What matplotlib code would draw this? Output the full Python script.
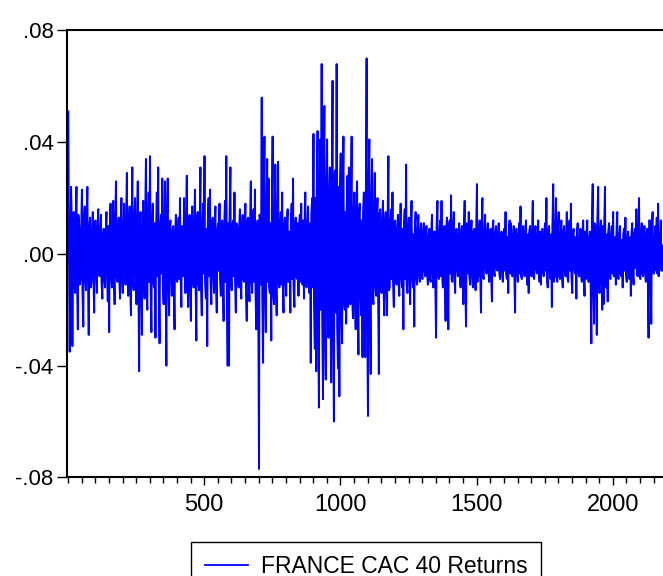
import numpy as np
import matplotlib.pyplot as plt
from matplotlib.ticker import MultipleLocator
from matplotlib.lines import Line2D

plt.rcParams['font.family'] = ['Liberation Sans', 'DejaVu Sans']

series_name = "FRANCE CAC 40 Returns"

# daily returns (in thousandths)
# peaks: one value every 5 obs starting at obs 1
first_obs = 1
obs_step = 5
returns_milli = [
    51, -35, 24, -33, 15, -14, 24, -27, 10, -9, 23, -26, 17, -13, 24, -29, 13, -10, 15, -21,      # 1-100
    12, -14, 16, -8, 14, -16, 9, -12, 15, -17, -28, 18, -12, 19, -18, 26, -10, 13, -16, 20,       # 101-200
    -14, 18, -11, 29, -15, 17, -22, 31, -13, 20, -18, 26, -42, 15, -29, 19, -16, 34, -20, 22,     # 201-300
    35, -28, 18, -12, -30, 22, 31, -32, 14, 27, -18, 26, -40, 27, -22, 12, -15, 10, -27, 14,      # 301-400
    -10, 13, 20, -19, 9, 20, -14, 28, -19, 14, -24, 17, -12, 23, -31, 15, -13, 31, -22, 18,       # 401-500
    35, -16, -33, 20, 23, -18, 13, -14, 17, -21, 11, 18, -15, 12, -24, 19, 35, -40, -40, 31,      # 501-600
    -13, 12, 22, -21, 10, -12, 16, -16, 14, -10, 18, -24, 13, -17, 26, -14, 16, 23, -27, 12,      # 601-700
    -77, 12, 56, -39, 42, -28, 34, 27, -14, -31, 42, -18, 32, -22, 33, -12, 15, 22, -21, 13,      # 701-800
    -15, 16, -10, -21, 18, 27, -19, 13, -9, -15, 14, 18, -11, -16, 22, -12, 17, -14, -39, 20,     # 801-900
    43, -34, -42, 44, -55, 41, 68, -52, 53, -45, 41, -30, 31, -46, 62, -60, 30, 68, -41, -51,     # 901-1000
    36, -32, 42, -20, -25, 28, 31, -18, 42, -23, 22, -27, 26, -36, 18, -22, -37, 22, -37, 70,     # 1001-1100
    -58, 41, -43, 34, -18, 29, -15, 20, -43, 16, -14, 19, -22, 15, -22, 35, -12, 16, 22, -19,     # 1101-1200
    12, -11, 14, -15, 18, -12, -27, 16, 32, -14, 13, -18, 19, -12, -26, 15, -11, 14, -10, 11,     # 1201-1300
    -9, 11, -8, 10, -11, 9, -10, 14, -12, 8, -30, 19, -9, 12, 19, -12, 10, -24, 13, -27,          # 1301-1400
    12, 21, -10, 15, -14, 9, -8, 11, -12, 10, -18, 19, -26, 10, 15, -11, 12, -12, 9, -13,         # 1401-1500
    25, -8, 12, -21, 20, -9, 14, -7, 11, -10, 9, -17, 12, -8, 10, -6, 11, -9, 8, -10,             # 1501-1600
    9, 15, -9, -14, 12, 11, -8, 10, -21, 9, -10, 11, 17, -9, 10, -8, 12, -11, -14, 10,            # 1601-1700
    -8, 19, -9, 10, -7, 12, -10, -11, 9, -8, 11, 20, -12, 10, -9, -19, 25, -8, 20, -10,           # 1701-1800
    15, -9, 12, -12, 10, -8, 15, -10, 12, 18, -14, 9, -7, -16, 11, -8, 9, -10, 12, -15,           # 1801-1900
    -9, 12, -10, 8, -32, 25, -25, 10, -29, 24, -14, 12, -20, -18, 24, -12, -17, 11, -9, 10,       # 1901-2000
    15, -8, -11, 15, -9, 10, -8, -12, 9, 13, -10, 8, -9, -15, 11, -11, 9, 16, -8, 20,             # 2001-2100
    -9, 11, -8, 10, -10, 9, -30, 12, -25, 15, -7, 10, 13, 18, -5, 12, -6,                         # 2101-2181
]

# the dense core in between, one value every 5 obs starting at obs 3
core_first_obs = 3
core_milli = [
    8, -12, 15, -6, -10, 12, -9, 14, -11, 7, -13, 10, -8, 12, -6, 9, -12, 8, -7, 11,
    -6, 9, -7, 8, -10, 6, -9, 7, -5, 10, 8, -7, 9, -6, 11, -8, 7, -9, 6, -8,
    9, -7, 10, -8, 6, -11, 8, -9, 12, -6, 10, -7, 9, -10, 8, -7, 11, -9, 7, -10,
    -9, 8, -10, 11, 7, -8, -10, 9, -7, -11, 10, -9, 12, -8, 9, -6, 8, -10, 7, -9,
    8, -9, -7, 10, -8, -6, 11, -9, 8, -10, 9, -7, 10, -8, 12, -9, 10, -11, 8, -7,
    -10, 9, 11, -8, -9, 10, -7, 9, -10, 8, -6, -9, 10, -7, 9, -10, -12, 11, 13, -9,
    10, -8, -9, 11, -7, 9, -10, 8, -9, 7, -11, 12, -8, 10, -9, 11, -10, -12, 9, -10,
    14, -11, -15, 16, -12, 13, -10, -12, 11, 13, -14, 10, -12, 11, -10, 9, -11, -8, 10, -9,
    9, -10, 8, 11, -9, -12, 10, -8, 11, 9, -10, -8, 12, 10, -11, 9, -10, 11, 14, -12,
    -18, 20, 22, -24, 25, -20, -22, 26, -24, 21, -18, 20, -19, 22, -25, 28, -21, -26, 24, 22,
    -20, 18, -17, 15, 16, -19, -14, 17, -16, 14, -15, 16, -14, 15, -13, 12, 15, -14, 16, -20,
    22, -18, 16, -15, 12, -11, 13, -12, 14, -10, 11, -12, 10, -11, 12, -13, 10, -9, -10, 11,
    -9, 8, -10, 7, -8, 9, 10, -9, -11, 8, -7, 9, -8, 7, 9, -8, 7, -6, 8, -7,
    7, -6, 8, -7, 6, -8, 7, -6, 8, -9, 10, -7, 6, -8, -7, 8, -6, 9, -7, 10,
    -7, -9, 8, -6, 7, -5, 6, -7, 8, -6, 9, -10, 11, -7, -8, 6, -7, 8, -6, 7,
    -10, 6, -7, 9, -8, 6, -5, 7, -6, 5, -7, 8, -6, 7, -5, 6, -7, 6, -5, 7,
    -6, -7, 6, 8, -7, -6, 5, -6, 8, -5, 6, -7, -8, 6, -5, 7, -6, 7, 8, -6,
    6, -8, 7, -5, 6, -7, 8, 6, -5, 7, -6, -9, 8, -6, 7, 9, -10, 6, -8, 7,
    -8, 6, -7, 8, -6, 5, -8, 7, -6, -8, 7, -5, 6, 8, -6, 5, -7, 6, -7, 8,
    6, -7, 5, -8, 12, -10, 11, -9, 12, -11, 8, -9, 10, 9, -10, 7, 8, -6, 5, -7,
    -8, 6, 7, -8, 6, -7, 5, 7, -6, -7, 5, -6, 6, 7, -6, 7, -5, -7, 6, -8,
    6, -7, 5, -6, 7, -5, 12, -8, 11, -7, 5, -6, -7, -8, 4, -6, 3,
]

y_ticks = [-0.08, -0.04, 0.0, 0.04, 0.08]
y_tick_labels = ['-.08', '-.04', '.00', '.04', '.08']
x_ticks = [500, 1000, 1500, 2000]

obs = np.concatenate([first_obs + obs_step * np.arange(len(returns_milli)),
                      core_first_obs + obs_step * np.arange(len(core_milli))])
vals = np.concatenate([returns_milli, core_milli]) / 1000.0
order = np.argsort(obs, kind='stable')
obs, vals = obs[order], vals[order]

fig = plt.figure(figsize=(6.63, 5.76), dpi=100)
ax = fig.add_axes([0.1018, 0.1712, 0.8982, 0.7759])

ax.plot(obs, vals, color='#0000ff', lw=1.4)

ax.set_xlim(-2, 2184)
ax.set_ylim(-0.08, 0.08)
ax.set_yticks(y_ticks)
ax.set_yticklabels(y_tick_labels)
ax.set_xticks(x_ticks)
ax.xaxis.set_minor_locator(MultipleLocator(50))

ax.tick_params(axis='y', direction='out', length=7, width=1, labelsize=16, pad=3)
ax.tick_params(axis='x', which='major', direction='out', length=6, width=1, labelsize=17, pad=6)
ax.tick_params(axis='x', which='minor', direction='out', length=4, width=1)

for side in ['left', 'top', 'bottom']:
    ax.spines[side].set_linewidth(1.5)
ax.spines['right'].set_visible(False)

handle = Line2D([], [], color='#0000ff', lw=1.3)
leg = fig.legend([handle], [series_name], loc='upper center', bbox_to_anchor=(0.552, 0.059),
                 fontsize=16.5, frameon=True, fancybox=False, edgecolor='black', framealpha=1,
                 handlelength=1.9, handletextpad=0.55, borderpad=0.58, borderaxespad=0)
leg.get_frame().set_linewidth(1.0)

fig.savefig('out.png', dpi=100)
